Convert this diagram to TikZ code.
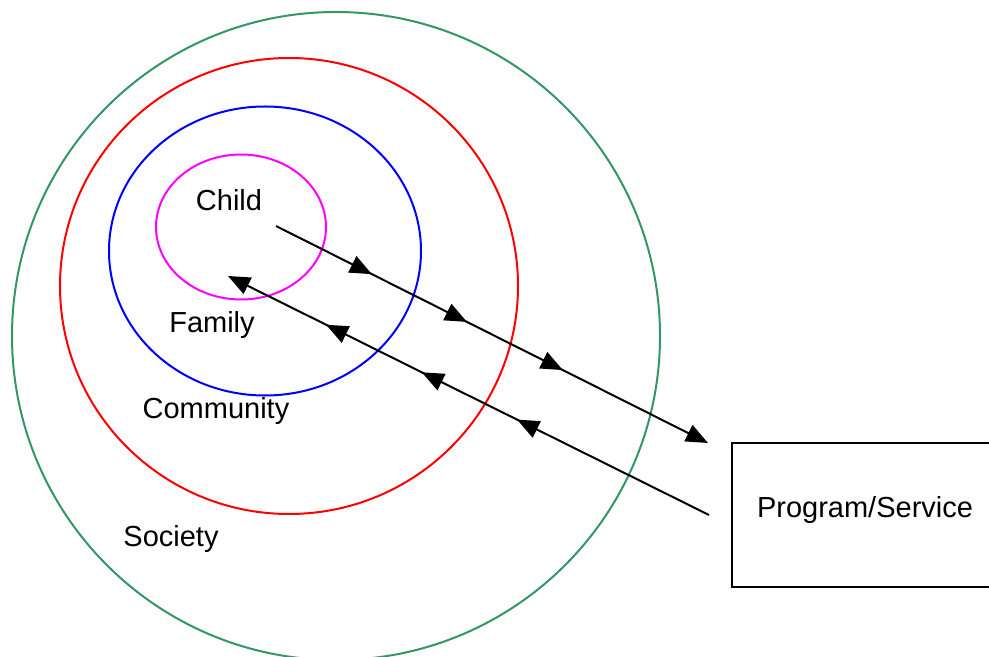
\documentclass[tikz,border=0pt]{standalone}
\usepackage{fontspec}
\setmainfont{Liberation Sans}
\usetikzlibrary{shapes,arrows.meta,decorations.markings}

\definecolor{sgreen}{RGB}{51,150,100}
\definecolor{pmag}{RGB}{255,0,255}

\begin{document}
\begin{tikzpicture}[x=0.5pt, y=-0.5pt, >={Triangle[length=11pt, width=9pt]},
    every node/.style={font=\fontsize{14.5}{17}\selectfont},
    ring/.style={draw, ellipse, line width=1pt, inner sep=0pt},
    flow/.style={->, line width=1pt, postaction={decorate}}]
    \useasboundingbox (0,0) rectangle (989,657);

    % nested circles
    \node [ring, draw=sgreen, minimum width=324pt, minimum height=324pt] (society) at (336,336) {};
    \node [ring, draw=red, minimum width=229pt, minimum height=228pt] (community) at (289,286) {};
    \node [ring, draw=blue, minimum width=156pt, minimum height=144.5pt] (family) at (265,251) {};
    \node [ring, draw=pmag, minimum width=85pt, minimum height=72.5pt] (child) at (241,227) {};

    \node [anchor=base] (childtxt) at (229,211) {Child};
    \node [anchor=base] (familytxt) at (212,332) {Family};
    \node [anchor=base] (communitytxt) at (216,418) {Community};
    \node [anchor=base] (societytxt) at (171,546) {Society};

    % program box (runs off the right edge)
    \node [draw, line width=1pt, minimum width=133pt, minimum height=72pt] (prog) at (865,515) {};
    \node (progtxt) at (865,510) {Program/Service};

    \coordinate (outA) at (276,226);
    \coordinate (outB) at (708,443);
    \coordinate (inA) at (709,515);
    \coordinate (inB) at (228,276);

    \draw [flow, decoration={markings,
        mark=at position 0.222 with {\arrow{>}},
        mark=at position 0.442 with {\arrow{>}},
        mark=at position 0.664 with {\arrow{>}}}] (outA) -- (outB);
    \draw [flow, decoration={markings,
        mark=at position 0.399 with {\arrow{>}},
        mark=at position 0.597 with {\arrow{>}},
        mark=at position 0.796 with {\arrow{>}}}] (inA) -- (inB);
\end{tikzpicture}
\end{document}
